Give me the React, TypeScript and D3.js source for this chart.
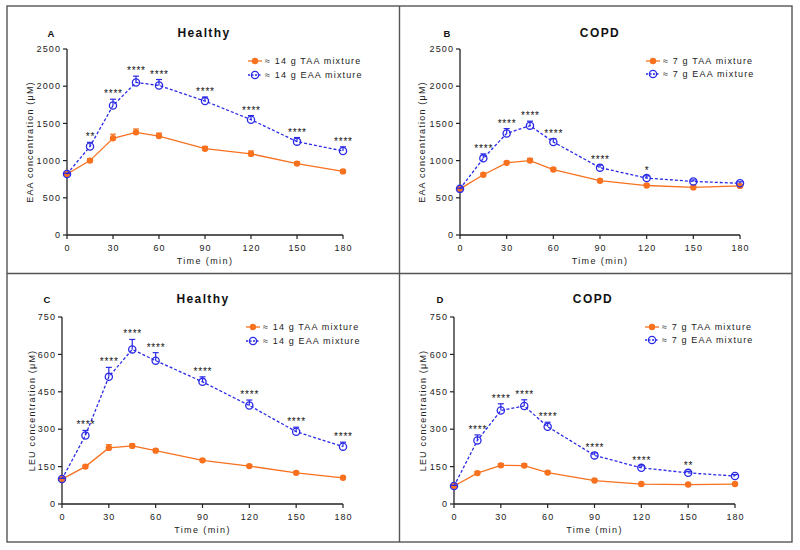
import React from "react";
import * as d3 from "d3";

const times = [0, 15, 30, 45, 60, 90, 120, 150, 180];
const xTicks = [0, 30, 60, 90, 120, 150, 180];
const eaaTicks = [0, 500, 1000, 1500, 2000, 2500];
const leuTicks = [0, 150, 300, 450, 600, 750];

// Panel A: Healthy EAA
const healthyEaaTaa = [820, 1000, 1300, 1380, 1330, 1160, 1090, 960, 855];
const healthyEaaTaaErr = [10, 25, 55, 45, 40, 30, 40, 25, 20];
const healthyEaaEaa = [820, 1190, 1740, 2050, 2010, 1800, 1550, 1255, 1130];
const healthyEaaEaaErr = [10, 55, 85, 85, 80, 55, 55, 55, 55];
const healthyEaaStars = ["", "**", "****", "****", "****", "****", "****", "****", "****"];

// Panel B: COPD EAA
const copdEaaTaa = [620, 810, 970, 1000, 880, 730, 665, 640, 660];
const copdEaaTaaErr = [10, 20, 20, 30, 20, 15, 15, 15, 15];
const copdEaaEaa = [620, 1030, 1365, 1470, 1250, 905, 765, 720, 695];
const copdEaaEaaErr = [10, 60, 65, 60, 45, 35, 30, 20, 20];
const copdEaaStars = ["", "****", "****", "****", "****", "****", "*", "", ""];

// Panel C: Healthy LEU
const healthyLeuTaa = [100, 150, 225, 233, 214, 175, 152, 125, 105];
const healthyLeuTaaErr = [3, 5, 13, 8, 6, 5, 5, 5, 4];
const healthyLeuEaa = [100, 275, 510, 620, 575, 490, 395, 290, 230];
const healthyLeuEaaErr = [3, 20, 38, 40, 32, 20, 22, 18, 18];
const healthyLeuStars = ["", "****", "****", "****", "****", "****", "****", "****", "****"];

// Panel D: COPD LEU
const copdLeuTaa = [72, 124, 155, 154, 126, 94, 80, 78, 80];
const copdLeuTaaErr = [3, 6, 7, 7, 6, 5, 4, 4, 4];
const copdLeuEaa = [72, 255, 375, 393, 310, 195, 145, 125, 112];
const copdLeuEaaErr = [3, 22, 27, 25, 18, 10, 8, 6, 6];
const copdLeuStars = ["", "****", "****", "****", "****", "****", "****", "**", ""];

const ORANGE = "#F7711E";
const BLUE = "#2A2AE6";
const INK = "#222";
const FONT = "Liberation Sans, Arial, sans-serif";

type PanelProps = {
  letter: string;
  title: string;
  left: number;
  right: number;
  top: number;
  bottom: number;
  yMax: number;
  yTicks: number[];
  yLabel: string;
  yLabelX: number;
  titleX: number;
  letterX: number;
  titleY: number;
  legendX: number;
  legendY: number;
  legendGap: number;
  taaLabel: string;
  eaaLabel: string;
  taa: number[];
  taaErr: number[];
  eaa: number[];
  eaaErr: number[];
  stars: string[];
};

function Panel(p: PanelProps) {
  const x = d3.scaleLinear().domain([0, 180]).range([p.left, p.right]);
  const y = d3.scaleLinear().domain([0, p.yMax]).range([p.bottom, p.top]);
  const line = d3
    .line<number>()
    .x((_, i) => x(times[i]))
    .y((d) => y(d));
  const series = [
    { vals: p.taa, err: p.taaErr, color: ORANGE, dash: undefined as string | undefined, open: false, label: p.taaLabel },
    { vals: p.eaa, err: p.eaaErr, color: BLUE, dash: "3,2", open: true, label: p.eaaLabel },
  ];
  const ls = 1.1;
  return (
    <g>
      {/* axes */}
      <line x1={p.left} x2={p.left} y1={p.top} y2={p.bottom} stroke={INK} strokeWidth={1.3} />
      <line x1={p.left} x2={p.right} y1={p.bottom} y2={p.bottom} stroke={INK} strokeWidth={1.3} />
      {p.yTicks.map((t) => (
        <g key={"y" + t}>
          <line x1={p.left - 4} x2={p.left} y1={y(t)} y2={y(t)} stroke={INK} strokeWidth={1.2} />
          <text x={p.left - 6} y={y(t) + 3.2} textAnchor="end" fontSize={9} letterSpacing={ls} fill={INK}>
            {t}
          </text>
        </g>
      ))}
      {xTicks.map((t) => (
        <g key={"x" + t}>
          <line x1={x(t)} x2={x(t)} y1={p.bottom} y2={p.bottom + 4} stroke={INK} strokeWidth={1.2} />
          <text x={x(t) + ls / 2} y={p.bottom + 16} textAnchor="middle" fontSize={9} letterSpacing={ls} fill={INK}>
            {t}
          </text>
        </g>
      ))}
      <text x={(p.left + p.right) / 2} y={p.bottom + 29} textAnchor="middle" fontSize={9} letterSpacing={1.4} fill={INK}>
        Time (min)
      </text>
      <text
        transform={`translate(${p.yLabelX + 3},${(p.top + p.bottom) / 2}) rotate(-90)`}
        textAnchor="middle"
        fontSize={9}
        letterSpacing={1.2}
        fill={INK}
      >
        {p.yLabel}
      </text>
      <text x={p.titleX} y={p.titleY + 4} textAnchor="middle" fontSize={12} fontWeight="bold" letterSpacing={1.4} fill="#111">
        {p.title}
      </text>
      <text x={p.letterX} y={p.titleY + 3.5} textAnchor="middle" fontSize={9.5} fontWeight="bold" fill="#111">
        {p.letter}
      </text>
      {/* series */}
      {series.map((s, si) => (
        <g key={"s" + si}>
          <path d={line(s.vals) || ""} fill="none" stroke={s.color} strokeWidth={1.3} strokeDasharray={s.dash} />
          {s.vals.map((v, i) => (
            <g key={i}>
              <line x1={x(times[i])} x2={x(times[i])} y1={y(v)} y2={y(v + s.err[i])} stroke={s.color} strokeWidth={1.2} />
              <line x1={x(times[i]) - 3} x2={x(times[i]) + 3} y1={y(v + s.err[i])} y2={y(v + s.err[i])} stroke={s.color} strokeWidth={1.2} />
              {s.open ? (
                <circle cx={x(times[i])} cy={y(v)} r={3.6} fill="none" stroke={s.color} strokeWidth={1.3} />
              ) : (
                <circle cx={x(times[i])} cy={y(v)} r={3.2} fill={s.color} />
              )}
            </g>
          ))}
        </g>
      ))}
      {/* significance stars */}
      {p.stars.map((s, i) =>
        s ? (
          <text
            key={"st" + i}
            x={x(times[i]) + 0.4}
            y={y(p.eaa[i] + p.eaaErr[i]) - 2}
            textAnchor="middle"
            fontSize={10}
            letterSpacing={0.8}
            fill="#111"
          >
            {s}
          </text>
        ) : null
      )}
      {/* legend */}
      {series.map((s, si) => {
        const ly = p.legendY + si * p.legendGap;
        return (
          <g key={"l" + si}>
            <line x1={p.legendX - 7} x2={p.legendX + 7} y1={ly} y2={ly} stroke={s.color} strokeWidth={1.3} strokeDasharray={s.dash ? "2,1.5" : undefined} />
            {s.open ? (
              <circle cx={p.legendX} cy={ly} r={3.6} fill="none" stroke={s.color} strokeWidth={1.3} />
            ) : (
              <circle cx={p.legendX} cy={ly} r={3.2} fill={s.color} />
            )}
            <text x={p.legendX + 10} y={ly + 3.2} fontSize={9} letterSpacing={1.15} fill={INK}>
              {s.label}
            </text>
          </g>
        );
      })}
    </g>
  );
}

export default function App() {
  return (
    <svg
      width={800}
      height={550}
      style={{ position: "absolute", left: 0, top: 0, background: "#fff" }}
      fontFamily={FONT}
    >
      <rect x={0} y={0} width={800} height={550} fill="#fff" />
      <rect x={7} y={6} width={785} height={536} fill="none" stroke="#555" strokeWidth={1.4} />
      <line x1={399.5} x2={399.5} y1={6} y2={542} stroke="#555" strokeWidth={1.4} />
      <line x1={7} x2={792} y1={273.5} y2={273.5} stroke="#555" strokeWidth={1.4} />
      <Panel
        letter="A" title="Healthy" left={67} right={343} top={49} bottom={235}
        yMax={2500} yTicks={eaaTicks} yLabel="EAA concentration (μM)" yLabelX={30}
        titleX={204} letterX={51} titleY={33} legendX={255} legendY={61} legendGap={14}
        taaLabel="≈ 14 g TAA mixture" eaaLabel="≈ 14 g EAA mixture"
        taa={healthyEaaTaa} taaErr={healthyEaaTaaErr} eaa={healthyEaaEaa} eaaErr={healthyEaaEaaErr} stars={healthyEaaStars}
      />
      <Panel
        letter="B" title="COPD" left={460} right={740} top={49} bottom={235}
        yMax={2500} yTicks={eaaTicks} yLabel="EAA concentration (μM)" yLabelX={422}
        titleX={600} letterX={447} titleY={33} legendX={653} legendY={61} legendGap={13}
        taaLabel="≈ 7 g TAA mixture" eaaLabel="≈ 7 g EAA mixture"
        taa={copdEaaTaa} taaErr={copdEaaTaaErr} eaa={copdEaaEaa} eaaErr={copdEaaEaaErr} stars={copdEaaStars}
      />
      <Panel
        letter="C" title="Healthy" left={62} right={343} top={317} bottom={504}
        yMax={750} yTicks={leuTicks} yLabel="LEU concentration (μM)" yLabelX={32}
        titleX={203} letterX={47} titleY={299} legendX={253} legendY={327} legendGap={14}
        taaLabel="≈ 14 g TAA mixture" eaaLabel="≈ 14 g EAA mixture"
        taa={healthyLeuTaa} taaErr={healthyLeuTaaErr} eaa={healthyLeuEaa} eaaErr={healthyLeuEaaErr} stars={healthyLeuStars}
      />
      <Panel
        letter="D" title="COPD" left={454} right={735} top={317} bottom={504}
        yMax={750} yTicks={leuTicks} yLabel="LEU concentration (μM)" yLabelX={423}
        titleX={593} letterX={440} titleY={299} legendX={652} legendY={327} legendGap={13}
        taaLabel="≈ 7 g TAA mixture" eaaLabel="≈ 7 g EAA mixture"
        taa={copdLeuTaa} taaErr={copdLeuTaaErr} eaa={copdLeuEaa} eaaErr={copdLeuEaaErr} stars={copdLeuStars}
      />
    </svg>
  );
}
